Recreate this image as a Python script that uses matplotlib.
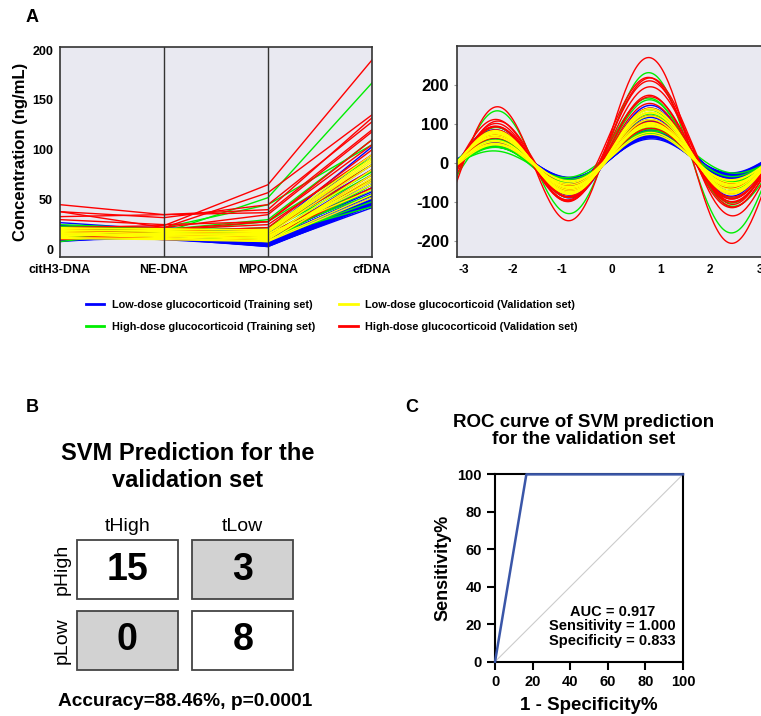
import numpy as np
import matplotlib
matplotlib.use("Agg")
import matplotlib.pyplot as plt
from matplotlib.patches import Rectangle
from matplotlib.lines import Line2D

plt.rcParams['font.family'] = ['Liberation Sans', 'DejaVu Sans']
plt.rcParams['font.weight'] = 'bold'
plt.rcParams['axes.labelweight'] = 'bold'
plt.rcParams['axes.unicode_minus'] = False

markers = ['citH3-DNA', 'NE-DNA', 'MPO-DNA', 'cfDNA']

# low-dose glucocorticoid, training set (blue)
blue_cith3 = [27, 22, 20, 18, 17, 16, 15, 14, 13, 12, 11, 10, 9, 8, 19, 21, 23, 16, 14, 12, 18, 20, 15, 13, 10, 17, 22, 11, 24, 9]
blue_ne = [20, 18, 15, 14, 12, 13, 14, 16, 10, 13, 13, 12, 14, 15, 17, 19, 21, 15, 13, 11, 14, 16, 18, 14, 13, 12, 15, 20, 22, 12]
blue_mpo = [15, 12, 10, 8, 3, 5, 7, 9, 4, 6, 11, 5, 8, 10, 13, 14, 18, 6, 4, 3, 9, 11, 16, 7, 5, 4, 12, 20, 17, 6]
blue_cfdna = [62, 58, 55, 52, 44, 48, 50, 54, 42, 47, 60, 46, 50, 55, 65, 70, 103, 49, 45, 46, 56, 68, 85, 52, 48, 45, 75, 80, 95, 47]

# high-dose glucocorticoid, training set (green)
green_cith3 = [20, 22, 18, 15, 25, 12, 10, 8, 14, 18, 21, 16, 11, 23]
green_ne = [17, 20, 22, 18, 21, 19, 16, 20, 15, 22, 18, 14, 17, 21]
green_mpo = [52, 30, 45, 28, 20, 18, 15, 12, 10, 14, 22, 8, 16, 12]
green_cfdna = [167, 110, 105, 92, 78, 75, 70, 60, 48, 43, 85, 65, 55, 80]

# low-dose glucocorticoid, validation set (yellow)
yellow_cith3 = [22, 20, 18, 17, 16, 15, 14, 13, 12, 11, 19, 16, 14, 21]
yellow_ne = [20, 18, 16, 14, 13, 12, 15, 17, 11, 10, 19, 14, 16, 21]
yellow_mpo = [20, 18, 15, 12, 10, 8, 14, 16, 9, 8, 17, 11, 13, 19]
yellow_cfdna = [95, 90, 85, 80, 75, 70, 65, 60, 55, 52, 88, 72, 68, 92]

# high-dose glucocorticoid, validation set (red)
red_cith3 = [22, 45, 38, 38, 33, 30, 20, 18, 16, 14, 12, 20, 17, 10, 15]
red_ne = [24, 35, 32, 22, 35, 25, 22, 20, 18, 15, 12, 14, 20, 15, 10]
red_mpo = [65, 40, 45, 57, 37, 28, 35, 28, 22, 20, 18, 15, 25, 12, 10]
red_cfdna = [190, 132, 128, 135, 120, 110, 118, 105, 100, 85, 80, 70, 95, 62, 75]

group_labels = ['Low-dose glucocorticoid (Training set)',
                'High-dose glucocorticoid (Training set)',
                'Low-dose glucocorticoid (Validation set)',
                'High-dose glucocorticoid (Validation set)']
group_colors = ['#0000FF', '#00EE00', '#FFFF00', '#FF0000']

groups = [
    np.column_stack([blue_cith3, blue_ne, blue_mpo, blue_cfdna]),
    np.column_stack([green_cith3, green_ne, green_mpo, green_cfdna]),
    np.column_stack([yellow_cith3, yellow_ne, yellow_mpo, yellow_cfdna]),
    np.column_stack([red_cith3, red_ne, red_mpo, red_cfdna]),
]
draw_order = [0, 1, 3, 2]  # yellow ends up over the crowded band

# confusion matrix (rows: predicted, cols: true)
cm_cols = ['tHigh', 'tLow']
cm_rows = ['pHigh', 'pLow']
cm_values = [[15, 3], [0, 8]]

# ROC curve
roc_fpr = [0, 16.67, 100]
roc_tpr = [0, 100, 100]

bg = '#E9E9F1'
edge = '#333333'

fig = plt.figure(figsize=(7.61, 7.16), dpi=100)

# ---- A left: parallel coordinates
axA = fig.add_axes([0.0788, 0.641, 0.410, 0.2933])
axA.set_facecolor(bg)
xs = np.arange(len(markers))
for k in draw_order:
    for row in groups[k]:
        axA.plot(xs, row, color=group_colors[k], lw=1.0)
axA.axvline(1, color=edge, lw=1)
axA.axvline(2, color=edge, lw=1)
axA.set_xlim(0, 3)
axA.set_ylim(-7.5, 203)
axA.set_xticks(xs, markers, fontsize=9)
axA.set_yticks([0, 50, 100, 150, 200])
axA.tick_params(length=0, labelsize=9, pad=5)
axA.set_ylabel('Concentration (ng/mL)', fontsize=12, labelpad=3)
for s in axA.spines.values():
    s.set_color(edge)
    s.set_linewidth(1.2)

# ---- A right: Andrews curves
axR = fig.add_axes([0.600, 0.6415, 0.4074, 0.294])
axR.set_facecolor(bg)
t = np.linspace(-np.pi, np.pi, 200)
for k in draw_order:
    for x1, x2, x3, x4 in groups[k]:
        y = x1 / np.sqrt(2) + x2 * np.sin(t) + x3 * np.cos(t) + x4 * np.sin(2 * t)
        axR.plot(t, y, color=group_colors[k], lw=1.0)
axR.set_xlim(-np.pi, np.pi)
axR.set_ylim(-240, 298)
axR.set_yticks([-200, -100, 0, 100, 200])
axR.set_xticks([-3, -2, -1, 0, 1, 2, 3])
axR.tick_params(axis='y', labelsize=12, length=2, color='#999999')
axR.tick_params(axis='x', labelsize=8.5, length=0, pad=5)
for s in axR.spines.values():
    s.set_color(edge)
    s.set_linewidth(1.2)

handles = [Line2D([], [], color=c, lw=2) for c in group_colors]
fig.legend(handles, group_labels, ncol=2, loc='center',
           bbox_to_anchor=(0.436, 0.5587), frameon=False,
           prop={'weight': 'bold', 'size': 7.8},
           handlelength=1.7, handletextpad=0.7, columnspacing=2.2, labelspacing=1.1)

# ---- B: confusion matrix
axB = fig.add_axes([0.0912, 0.056, 0.3038, 0.1979])
for i in range(2):
    for j in range(2):
        fc = 'white' if i == j else '#D2D2D2'
        axB.add_patch(Rectangle((j + 0.063, i + 0.083), 0.874, 0.834,
                                facecolor=fc, edgecolor='#444444', lw=1.3))
        axB.text(j + 0.5, i + 0.5, str(cm_values[i][j]), ha='center', va='center',
                 fontsize=27)
axB.set_xlim(0, 2)
axB.set_ylim(2, 0)
axB.xaxis.tick_top()
axB.set_xticks([0.5, 1.5], cm_cols, fontsize=14, fontweight='normal')
axB.set_yticks([0.5, 1.5], cm_rows, fontsize=14, fontweight='normal',
               rotation=90, va='center')
axB.tick_params(axis='x', length=0, pad=-0.5)
axB.tick_params(axis='y', length=0, pad=-1)
for s in axB.spines.values():
    s.set_visible(False)

fig.text(188 / 761, 1 - 467 / 716, 'SVM Prediction for the\nvalidation set',
         ha='center', va='center', fontsize=17, linespacing=1.25)
fig.text(185 / 761, 1 - 702 / 716, 'Accuracy=88.46%, p=0.0001',
         ha='center', va='center', fontsize=13.8)

# ---- C: ROC curve
axC = fig.add_axes([0.6505, 0.0758, 0.247, 0.2617])
axC.plot([0, 100], [0, 100], color='#CCCCCC', lw=0.8)
axC.plot(roc_fpr, roc_tpr, color='#3A56A8', lw=1.8, clip_on=False, zorder=5)
axC.set_xlim(0, 100)
axC.set_ylim(0, 100)
axC.set_xticks([0, 20, 40, 60, 80, 100])
axC.set_yticks([0, 20, 40, 60, 80, 100])
axC.tick_params(labelsize=10.5, length=6, width=1.5)
for s in axC.spines.values():
    s.set_linewidth(1.5)
axC.set_xlabel('1 - Specificity%', fontsize=13.5, labelpad=6)
axC.set_ylabel('Sensitivity%', fontsize=13, labelpad=4)
axC.text(62.3, 19, 'AUC = 0.917\nSensitivity = 1.000\nSpecificity = 0.833',
         ha='center', va='center', fontsize=10.5, linespacing=1.05)
fig.text(584 / 761, 1 - 431 / 716, 'ROC curve of SVM prediction\nfor the validation set',
         ha='center', va='center', fontsize=13.5, linespacing=1.0)

# panel letters
fig.text(32 / 761, 1 - 18 / 716, 'A', ha='center', va='center', fontsize=13)
fig.text(32 / 761, 1 - 407 / 716, 'B', ha='center', va='center', fontsize=13)
fig.text(412 / 761, 1 - 407 / 716, 'C', ha='center', va='center', fontsize=13)

fig.savefig('out.png', dpi=100)
